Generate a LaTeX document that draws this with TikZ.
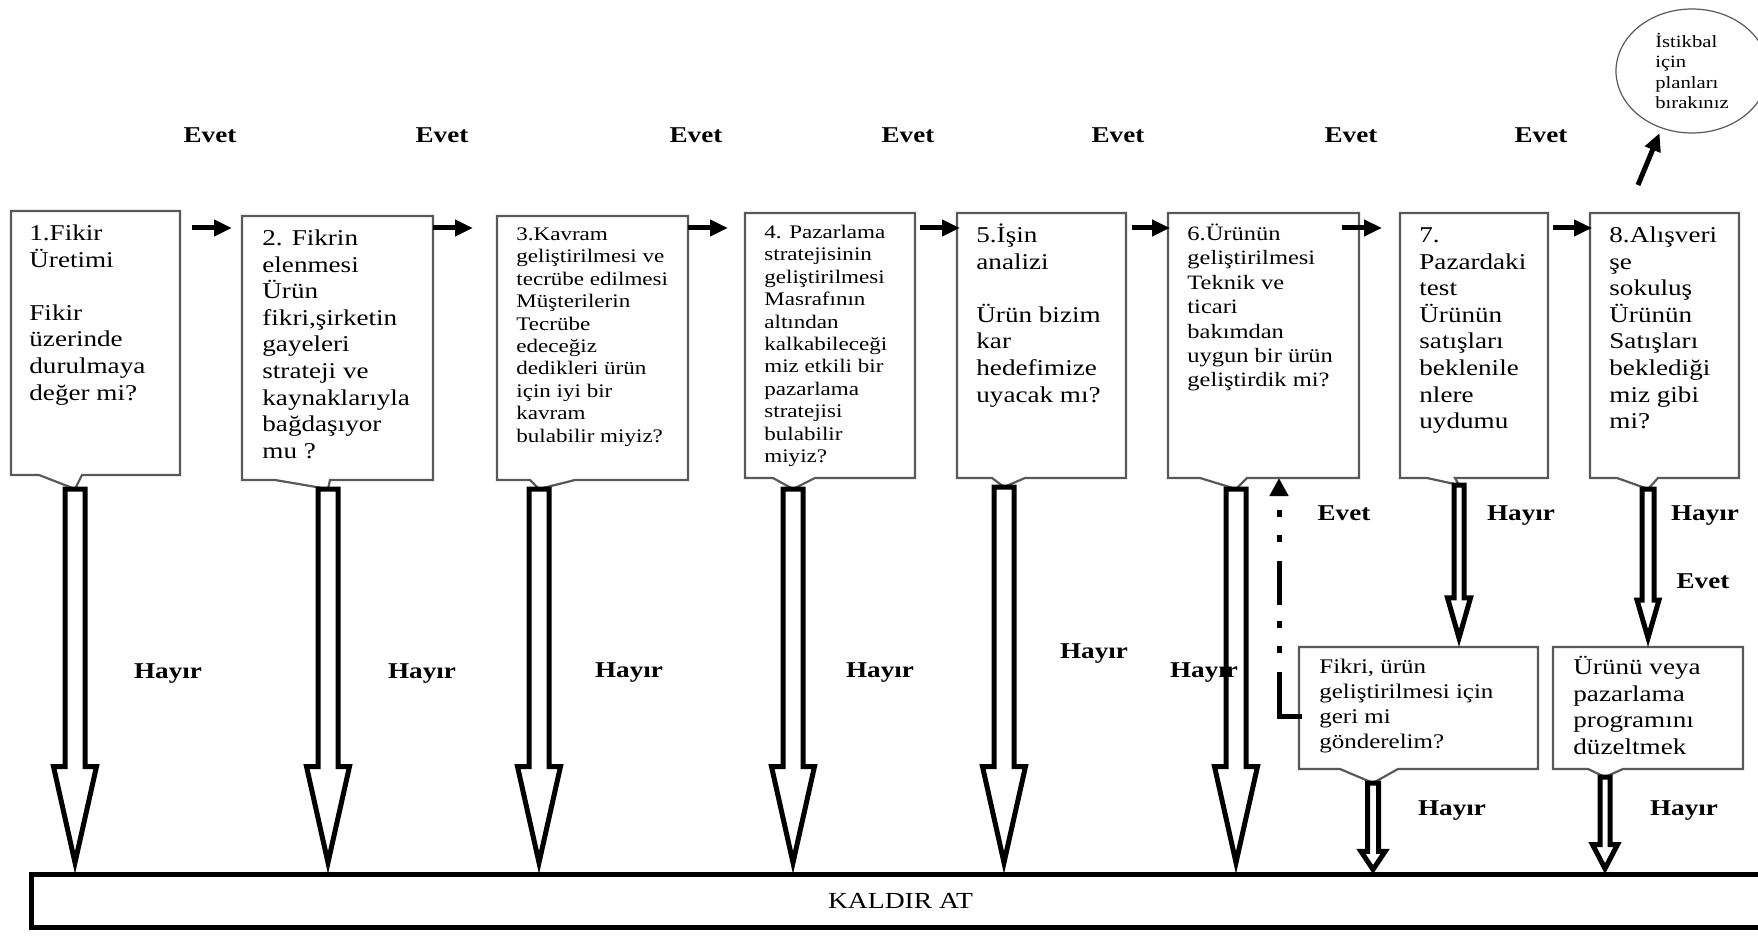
\documentclass[tikz,border=0pt]{standalone}
\usepackage{fontspec}
\setmainfont{Liberation Serif}[FakeStretch=1.2]
\usepackage{tikz}
\usetikzlibrary{arrows.meta,calc,positioning,shapes.geometric}

\definecolor{cerceve}{gray}{0.35}

% kutu cercevesi, altta sivri uclu
\newcommand{\cagri}[4]{%
  \draw[kutucizgi] (#1.south west) -- (#1.north west) -- (#1.north east) -- (#1.south east)
    -- ($(#1.south -| #2)+(#4,0)$) -- (#2) -- ($(#1.south -| #2)+(#3,0)$) -- cycle;}

% ici bos kalin ok: baslangic, uc, yarim govde, yarim bas, bas boyu
\newcommand{\bosok}[5]{%
  \draw[bosokcizgi] let \p1=(#1), \p2=(#2), \n1={0.5*\pgflinewidth*veclen(#4,#5)/#4} in
    ({\x1-#3},\y1) -- ({\x1+#3},\y1) -- ({\x1+#3},{\y2+#5+\n1}) -- ({\x1+#4},{\y2+#5+\n1})
    -- (\x1,{\y2+\n1}) -- ({\x1-#4},{\y2+#5+\n1}) -- ({\x1-#3},{\y2+#5+\n1}) -- cycle;}

\begin{document}
\begin{tikzpicture}[x=0.5pt,y=-0.5pt,
  kutu/.style={inner sep=0pt, outer sep=0pt, anchor=north west},
  kutucizgi/.style={draw=cerceve, line width=1.1pt, line join=miter},
  metin/.style={inner sep=0pt, align=left, font=\fontsize{11.3}{13.3}\selectfont},
  bosokcizgi/.style={draw=black, fill=white, line width=2.5pt, line join=miter},
  evetok/.style={line width=2.5pt, -{Triangle[length=9pt,width=8pt]}},
  geriok/.style={line width=2.5pt, dash pattern=on 22pt off 9.5pt on 3.5pt off 9pt on 3.5pt off 8pt, -{Triangle[length=9pt,width=9pt]}},
  etiket/.style={inner sep=0pt, anchor=base, font=\bfseries\fontsize{11.3}{13}\selectfont}]

	\useasboundingbox (0,0) rectangle (1758,936);

	% kutular
	\node[kutu, minimum width=84.5pt, minimum height=132pt] (k1) at (11,211) {};
	\node[kutu, minimum width=95.5pt, minimum height=132pt] (k2) at (242,216) {};
	\node[kutu, minimum width=95.5pt, minimum height=132pt] (k3) at (497,216) {};
	\node[kutu, minimum width=85pt, minimum height=132.5pt] (k4) at (745,213) {};
	\node[kutu, minimum width=84.5pt, minimum height=132.5pt] (k5) at (957,213) {};
	\node[kutu, minimum width=95.5pt, minimum height=132.5pt] (k6) at (1168,213) {};
	\node[kutu, minimum width=74pt, minimum height=132.5pt] (k7) at (1400,213) {};
	\node[kutu, minimum width=74.5pt, minimum height=132.5pt] (k8) at (1590,213) {};
	\node[kutu, minimum width=119.5pt, minimum height=61pt] (fikri) at (1299,647) {};
	\node[kutu, minimum width=95pt, minimum height=61pt] (duzelt) at (1553,647) {};

	% sivri uclar
	\coordinate (p1) at (75,489);
	\coordinate (p2) at (328,489);
	\coordinate (p3) at (539,489);
	\coordinate (p4) at (793,489);
	\coordinate (p5) at (1004,487);
	\coordinate (p6) at (1236,489);
	\coordinate (p7) at (1459,485);
	\coordinate (p8) at (1648,489);
	\coordinate (q1) at (1373,783);
	\coordinate (q2) at (1605,777);

	\cagri{k1}{p1}{-36}{7}
	\cagri{k2}{p2}{-53}{2}
	\cagri{k3}{p3}{-9}{36}
	\cagri{k4}{p4}{-20}{22}
	\cagri{k5}{p5}{-12}{21}
	\cagri{k6}{p6}{-36}{11}
	\cagri{k7}{p7}{-32}{-4}
	\cagri{k8}{p8}{-31}{10}
	\cagri{fikri}{q1}{-33}{25}
	\cagri{duzelt}{q2}{-17}{18}

	% kutu yazilari
	\node[metin, below right=5.2pt and 9pt of k1.north west] (m1) {\strut 1.Fikir\\Üretimi\\[13.3pt]Fikir\\üzerinde\\durulmaya\\değer mi?};
	\node[metin, below right=5.2pt and 10pt of k2.north west] (m2) {\strut 2. Fikrin\\elenmesi\\Ürün\\fikri,şirketin\\gayeleri\\strateji ve\\kaynaklarıyla\\bağdaşıyor\\mu ?};
	\node[metin, font=\fontsize{9.6}{11.2}\selectfont, below right=4.2pt and 9.5pt of k3.north west] (m3) {\strut 3.Kavram\\geliştirilmesi ve\\tecrübe edilmesi\\Müşterilerin\\Tecrübe\\edeceğiz\\dedikleri ürün\\için iyi bir\\kavram\\bulabilir miyiz?};
	\node[metin, font=\fontsize{9.6}{11.2}\selectfont, below right=4.7pt and 9.5pt of k4.north west] (m4) {\strut 4. Pazarlama\\stratejisinin\\geliştirilmesi\\Masrafının\\altından\\kalkabileceği\\miz etkili bir\\pazarlama\\stratejisi\\bulabilir\\miyiz?};
	\node[metin, below right=5.2pt and 9.5pt of k5.north west] (m5) {\strut 5.İşin\\analizi\\[13.3pt]Ürün bizim\\kar\\hedefimize\\uyacak mı?};
	\node[metin, font=\fontsize{10.2}{12.2}\selectfont, below right=5pt and 9.5pt of k6.north west] (m6) {\strut 6.Ürünün\\geliştirilmesi\\Teknik ve\\ticari\\bakımdan\\uygun bir ürün\\geliştirdik mi?};
	\node[metin, below right=5.2pt and 9.5pt of k7.north west] (m7) {\strut 7.\\Pazardaki\\test\\Ürünün\\satışları\\beklenile\\nlere\\uydumu};
	\node[metin, below right=5.2pt and 9.5pt of k8.north west] (m8) {\strut 8.Alışveri\\şe\\sokuluş\\Ürünün\\Satışları\\beklediği\\miz gibi\\mi?};
	\node[metin, font=\fontsize{10.4}{12.5}\selectfont, below right=4.25pt and 10pt of fikri.north west] (m9) {\strut Fikri, ürün\\geliştirilmesi için\\geri mi\\gönderelim?};
	\node[metin, below right=4.2pt and 10pt of duzelt.north west] (m10) {\strut Ürünü veya\\pazarlama\\programını\\düzeltmek};

	% istikbal
	\node[ellipse, draw=cerceve, line width=0.6pt, minimum width=76pt, minimum height=62pt, inner sep=1pt,
	      align=left, font=\fontsize{8.6}{10.3}\selectfont] (istikbal) at (1692,71) {İstikbal\\için\\planları\\bırakınız};

	% kaldir at
	\node[draw, line width=2.5pt, outer sep=0pt, inner sep=0pt, anchor=north west, minimum width=869.5pt,
	      minimum height=26.5pt, font=\fontsize{11.5}{13}\selectfont] (kaldir) at (31,874) {KALDIR AT};

	% evet oklari
	\coordinate (okhizasi) at (0,228);
	\foreach \a/\b/\s/\e in {k1/k2/6/5, k2/k3/0/12, k3/k4/0/8.5, k4/k5/2.5/-1.5, k5/k6/3/-1, k6/k7/-8.5/9, k7/k8/2.5/-1}
		\draw[evetok, shorten <=\s pt, shorten >=\e pt] (\a.east |- okhizasi) -- (\b.west |- okhizasi);
	\coordinate (cikis) at (1638,185);
	\draw[evetok, shorten >=2.5pt] (cikis) -- (istikbal.242); %istikbal
	\foreach \x in {210,442,696,908,1118,1351,1541}
		\node[etiket] (evet\x) at (\x,143) {Evet};

	% hayir oklari
	\foreach \u in {p1,p2,p3,p4,p5,p6}{
		\bosok{\u}{\u |- kaldir.north}{5pt}{10.75pt}{48pt}
	}
	\bosok{p7}{p7 |- fikri.north}{2.5pt}{5.75pt}{20pt}
	\bosok{p8}{p8 |- duzelt.north}{3pt}{5.5pt}{19pt}
	\bosok{q1}{q1 |- kaldir.north}{2.75pt}{6pt}{9pt}
	\bosok{q2}{q2 |- kaldir.north}{2.5pt}{6.25pt}{12pt}

	% geri gonder
	\coordinate (donus) at (1279,716);
	\draw[line width=2.5pt, line cap=rect] (fikri.west |- donus) -- (donus);
	\draw[geriok] (donus) -- (donus |- k6.south);

	% etiketler
	\node[etiket] (h1) at (168,678) {Hayır};
	\node[etiket] (h2) at (422,678) {Hayır};
	\node[etiket] (h3) at (629,677) {Hayır};
	\node[etiket] (h4) at (880,677) {Hayır};
	\node[etiket] (h5) at (1094,658) {Hayır};
	\node[etiket] (h6) at (1204,677) {Hayır};
	\node[etiket] (h7) at (1521,520) {Hayır};
	\node[etiket] (h8) at (1705,520) {Hayır};
	\node[etiket] (h9) at (1452,815) {Hayır};
	\node[etiket] (h10) at (1684,815) {Hayır};
	\node[etiket] (e8) at (1344,520) {Evet};
	\node[etiket] (e9) at (1703,588) {Evet};

\end{tikzpicture}
\end{document}
